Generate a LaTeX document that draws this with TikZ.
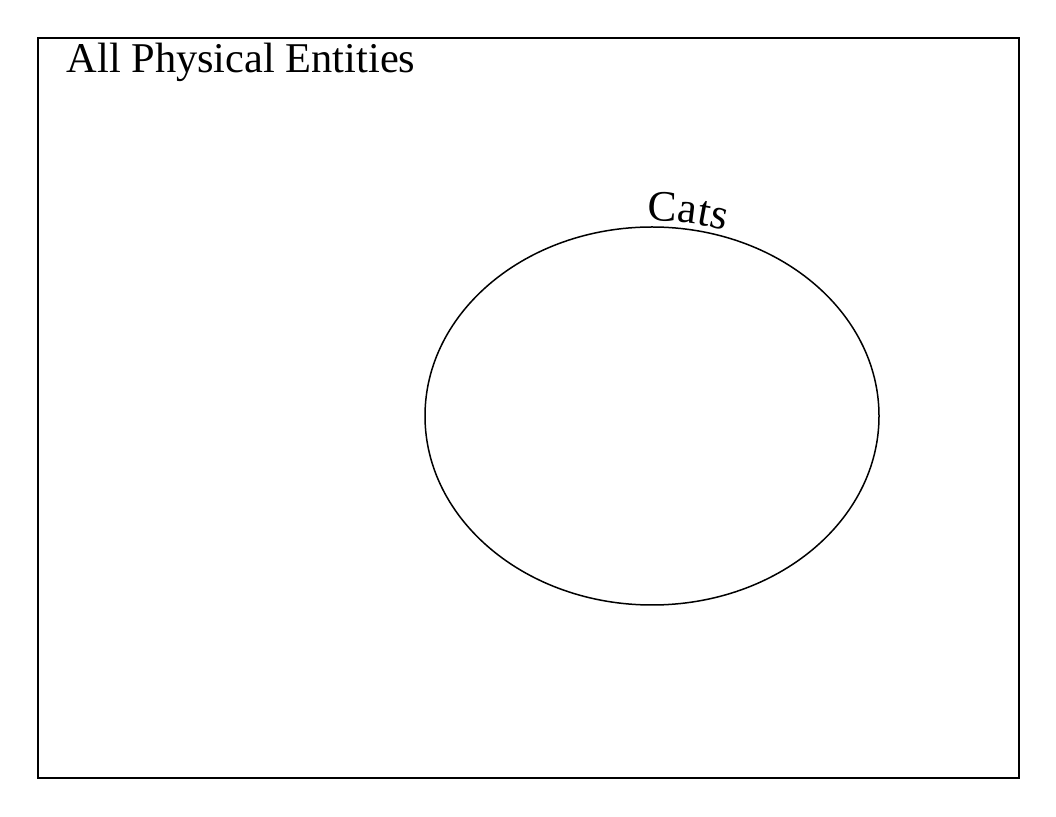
\documentclass[tikz,border=0pt]{standalone}
\usepackage{fontspec}
\setmainfont{Liberation Serif}
\usetikzlibrary{decorations.text}
\begin{document}
\begin{tikzpicture}[x=1pt,y=1pt,
  frame/.style={draw=black,line width=1.5pt},
  setline/.style={draw=black,line width=1.5pt},
  bigtext/.style={font=\fontsize{42.4}{50}\selectfont,inner sep=0pt,anchor=base west}]
\useasboundingbox (0,0) rectangle (1056,816);
\draw[frame] (38,38) rectangle (1019,778);
\node[bigtext] (all) at (66.5,743) {All Physical Entities};
\draw[setline] (652,400) ellipse [x radius=227, y radius=189];
\coordinate (catsstart) at ({652+233*cos(91)},{400+195*sin(91)});
\path[decorate,decoration={text along path,text align=left,
  text={|\fontsize{43.5}{50}\selectfont|Cats}}]
  (catsstart) arc[start angle=91, end angle=50, x radius=233, y radius=195];
\end{tikzpicture}
\end{document}
